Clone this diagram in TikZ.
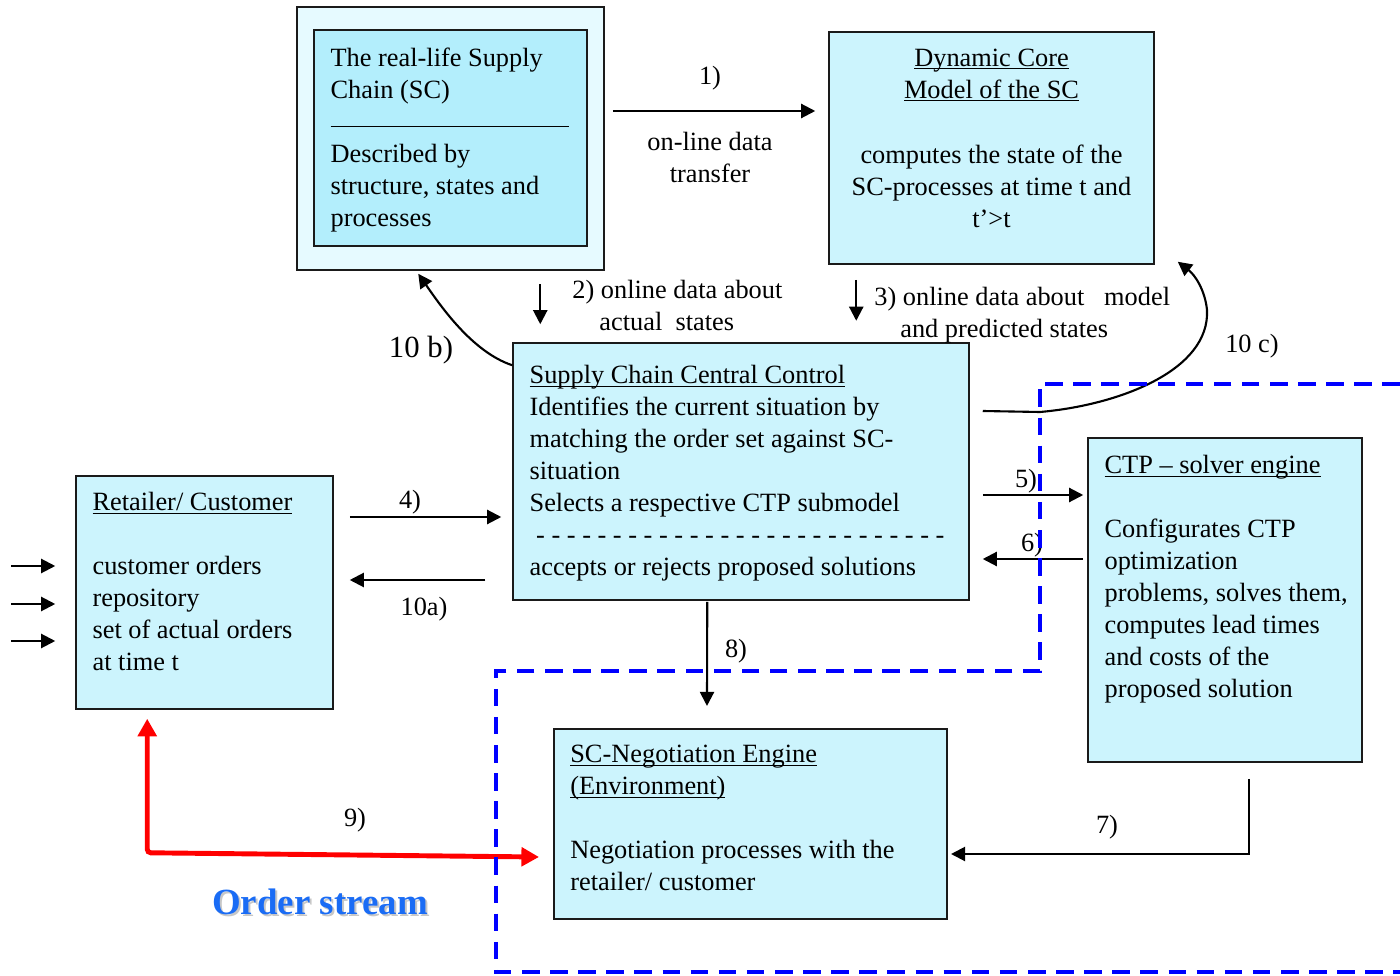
\documentclass[tikz,border=0pt]{standalone}
\usepackage{fontspec}
\setmainfont{Liberation Serif}
\usetikzlibrary{arrows.meta,calc}
\definecolor{scFrame}{HTML}{E6FAFF}
\definecolor{scInner}{HTML}{B3EEFC}
\definecolor{scBox}{HTML}{CCF4FD}
\definecolor{scBorder}{HTML}{1A1A1A}
\definecolor{scZone}{HTML}{0000FF}
\definecolor{scRed}{HTML}{FF0000}
\definecolor{scOrder}{HTML}{1A6CF5}
\newcommand{\uln}[1]{\underline{\smash{#1}}\vphantom{#1}}

\begin{document}
\begin{tikzpicture}[
  x=0.02cm, y=-0.02cm,
  font=\fontsize{15}{18.2}\selectfont,
  box/.style={draw=scBorder, line width=0.9pt, fill=scBox, inner sep=0pt},
  txt/.style={inner sep=0pt, align=left, anchor=north west, text=black},
  lbl/.style={inner sep=0pt, anchor=base, text=black},
  arr/.style={-{Triangle[length=8pt,width=8pt]}, line width=1.2pt},
  order/.style={{Triangle[length=10pt,width=10.5pt]}-{Triangle[length=10pt,width=10.5pt]},
                line width=2.8pt, draw=scRed, rounded corners=2pt},
  zone/.style={draw=scZone, line width=2.2pt, dash pattern=on 10pt off 6pt},
]
\useasboundingbox (0,0) rectangle (1400,976);

% Real supply chain
\node[box, fill=scFrame, minimum width=6.14cm, minimum height=5.26cm] (scframe) at (450.5,138.5) {};
\node[box, fill=scInner, minimum width=5.46cm, minimum height=4.32cm] (realsc) at (450.5,138) {};
\node[txt] (realsctext) at ($(realsc.north west)+(17,18)$)
  {The real-life Supply\\Chain (SC)\\\rule[1.7pt]{4.76cm}{0.8pt}\\Described by\\structure, states and\\processes};

% Core model
\node[box, minimum width=6.5cm, minimum height=4.64cm] (coremodel) at (991.5,148) {};
\node[txt, align=center, anchor=north] (coretext) at ($(coremodel.north)+(0,17)$)
  {\uln{Dynamic Core}\\\uln{Model of the SC}\\[19pt]computes the state of the\\SC-processes at time t and\\t’>t};

% Central control
\node[box, minimum width=9.12cm, minimum height=5.14cm] (control) at (741,471.5) {};
\node[txt] (controltext) at ($(control.north west)+(17,23)$)
  {\uln{Supply Chain Central Control}\\Identifies the current situation by\\matching the order set against SC-\\situation\\Selects a respective CTP submodel\\\foreach \i in {1,...,27}{\ -}\\accepts or rejects proposed solutions};

% Retailer
\node[box, minimum width=5.14cm, minimum height=4.66cm] (retailer) at (204.5,592.5) {};
\node[txt] (retailertext) at ($(retailer.north west)+(17,17)$)
  {\uln{Retailer/ Customer}\\[18.2pt]customer orders\\repository\\set of actual orders\\at time t};

% CTP solver
\node[box, minimum width=5.48cm, minimum height=6.48cm] (ctp) at (1225,600) {};
\node[txt] (ctptext) at ($(ctp.north west)+(17,18)$)
  {\uln{CTP -- solver engine}\\[18.2pt]Configurates CTP\\optimization\\problems, solves them,\\computes lead times\\and costs of the\\proposed solution};

% Negotiation engine
\node[box, line width=1.2pt, minimum width=7.86cm, minimum height=3.8cm] (negotiation) at (750.5,824) {};
\node[txt] (negotiationtext) at ($(negotiation.north west)+(17,17)$)
  {\uln{SC-Negotiation Engine}\\\uln{(Environment)}\\[18.2pt]Negotiation processes with the\\retailer/ customer};

% Labels
\node[lbl] (l1) at (710,85) {1)};
\node[txt, align=center, anchor=north] (l1b) at (710,132) {on-line data\\transfer};
\node[txt] (l2) at (572,280) {2) online data about\\\hspace{15.4pt}actual\ \ states};
\node[txt] (l3) at (874,287) {3) online data about\ \ \ model\\\hspace{14.8pt}and predicted states};
\node[lbl, font=\fontsize{17.5}{20}\selectfont] (l10b) at (421,358) {10 b)};
\node[lbl] (l10c) at (1252,353) {10 c)};
\node[lbl] (l4) at (410,508) {4)};
\node[lbl] (l10a) at (424,615) {10a)};
\node[lbl] (l5) at (1026,487) {5)};
\node[lbl] (l6) at (1032,551) {6)};
\node[lbl] (l8) at (736,657) {8)};
\node[lbl] (l7) at (1107,833) {7)};
\node[lbl] (l9) at (355,826) {9)};
\node[lbl, text=black!22, font=\bfseries\fontsize{21}{24}\selectfont] (ordershadow) at (322,916) {Order stream};
\node[lbl, text=scOrder, font=\bfseries\fontsize{21}{24}\selectfont] (ordertext) at (320,914) {Order stream};

% Flows
\draw[arr] ($(scframe.east|-0,111)+(8,0)$) -- ($(coremodel.west|-0,111)+(-13,0)$);
\draw[arr] ($(control.north west)+(28,-58)$) -- ($(control.north west)+(28,-18)$);
\draw[arr] ($(coremodel.south west)+(28,15)$) -- ($(coremodel.south west)+(28,56)$);
\draw[arr] ($(control.north west)+(0,23)$) .. controls (472,352) and (440,305) .. ($(scframe.south west)+(122,3)$);
\draw[arr] ($(control.east)+(13,-60.5)$) -- (1040,412) .. controls (1120,405) and (1210,370) .. (1207,310)
  .. controls (1205,290) and (1195,275) .. ($(coremodel.south east)+(23,-3)$);
\draw[arr] ($(retailer.east|-0,517)+(16,0)$) -- ($(control.west|-0,517)+(-11,0)$);
\draw[arr] ($(control.west|-0,580)+(-27,0)$) -- ($(retailer.east|-0,580)+(16,0)$);
\draw[arr] ($(control.east|-0,495)+(13,0)$) -- ($(ctp.west|-0,495)+(-4,0)$);
\draw[arr] ($(ctp.west|-0,559)+(-4,0)$) -- ($(control.east|-0,559)+(13,0)$);
\draw[arr] ($(control.south west)+(195,1)$) -- ($(negotiation.north west)+(154,-22)$);
\draw[arr] ($(ctp.south west)+(162,16)$) |- ($(negotiation.east|-0,854)+(3,0)$);
\foreach \y in {566,604,641}{ \draw[arr] ($(retailer.west|-0,\y)+(-64,0)$) -- ($(retailer.west|-0,\y)+(-20,0)$); }
\draw[order] ($(retailer.south west)+(72,9)$) -- ($(retailer.south west)+(72,143)$) -- ($(negotiation.west|-0,857)+(-14,0)$);

% Negotiation zone
\draw[zone] (1400,384) -- (1040,384) -- (1040,671) -- (496,671) -- (496,972) -- (1400,972);

\end{tikzpicture}
\end{document}
